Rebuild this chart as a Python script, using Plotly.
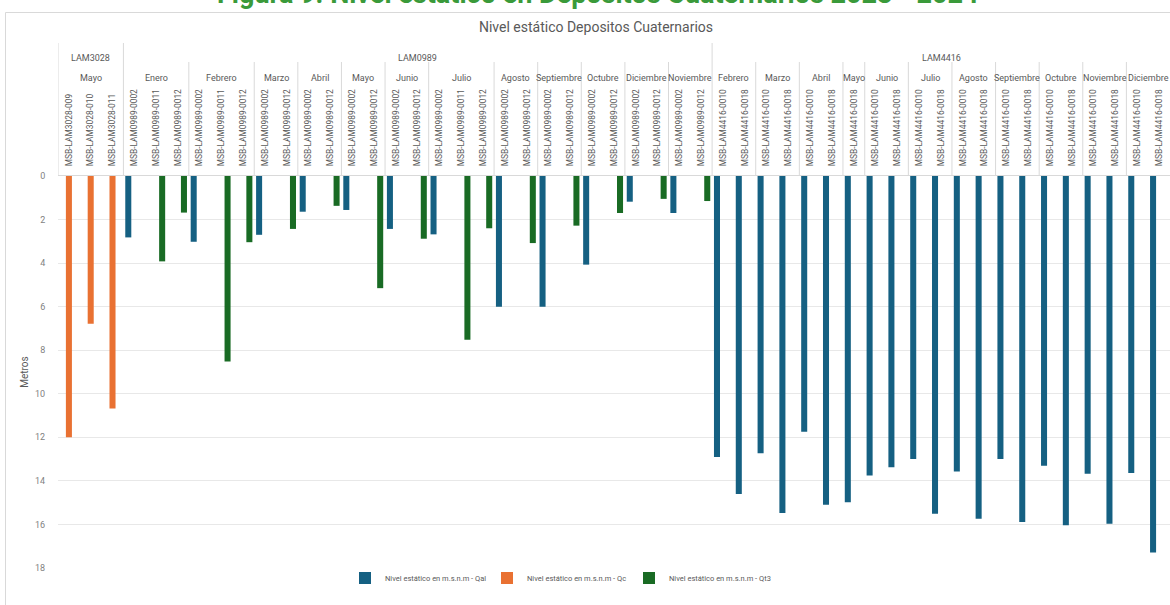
import plotly.graph_objects as go

# ---------------- data ----------------
groups = ["LAM3028"] * 3 + ["LAM0989"] * 27 + ["LAM4416"] * 21

months = (["Mayo"] * 3
          + ["Enero"] * 3 + ["Febrero"] * 3 + ["Marzo"] * 2 + ["Abril"] * 2 + ["Mayo"] * 2
          + ["Junio"] * 2 + ["Julio"] * 3 + ["Agosto"] * 2 + ["Septiembre"] * 2
          + ["Octubre"] * 2 + ["Diciembre"] * 2 + ["Noviembre"] * 2
          + ["Febrero"] * 2 + ["Marzo"] * 2 + ["Abril"] * 2 + ["Mayo"] * 1 + ["Junio"] * 2
          + ["Julio"] * 2 + ["Agosto"] * 2 + ["Septiembre"] * 2 + ["Octubre"] * 2
          + ["Noviembre"] * 2 + ["Diciembre"] * 2)

wells = [
    "MSB-LAM3028-009", "MSB-LAM3028-010", "MSB-LAM3028-011",
    "MSB-LAM0989-0002", "MSB-LAM0989-0011", "MSB-LAM0989-0012",
    "MSB-LAM0989-0002", "MSB-LAM0989-0011", "MSB-LAM0989-0012",
    "MSB-LAM0989-0002", "MSB-LAM0989-0012",
    "MSB-LAM0989-0002", "MSB-LAM0989-0012",
    "MSB-LAM0989-0002", "MSB-LAM0989-0012",
    "MSB-LAM0989-0002", "MSB-LAM0989-0012",
    "MSB-LAM0989-0002", "MSB-LAM0989-0011", "MSB-LAM0989-0012",
    "MSB-LAM0989-0002", "MSB-LAM0989-0012",
    "MSB-LAM0989-0002", "MSB-LAM0989-0012",
    "MSB-LAM0989-0002", "MSB-LAM0989-0012",
    "MSB-LAM0989-0002", "MSB-LAM0989-0012",
    "MSB-LAM0989-0002", "MSB-LAM0989-0012",
    "MSB-LAM4416-0010", "MSB-LAM4416-0018",
    "MSB-LAM4416-0010", "MSB-LAM4416-0018",
    "MSB-LAM4416-0010", "MSB-LAM4416-0018",
    "MSB-LAM4416-0018",
    "MSB-LAM4416-0010", "MSB-LAM4416-0018",
    "MSB-LAM4416-0010", "MSB-LAM4416-0018",
    "MSB-LAM4416-0010", "MSB-LAM4416-0018",
    "MSB-LAM4416-0010", "MSB-LAM4416-0018",
    "MSB-LAM4416-0010", "MSB-LAM4416-0018",
    "MSB-LAM4416-0010", "MSB-LAM4416-0018",
    "MSB-LAM4416-0010", "MSB-LAM4416-0018",
]

N = None
qal = [N, N, N,
       2.82, N, N,
       3.02, N, N,
       2.70, N,
       1.64, N,
       1.56, N,
       2.43, N,
       2.68, N, N,
       6.0, N,
       6.0, N,
       4.07, N,
       1.18, N,
       1.70, N,
       12.9, 14.6,
       12.73, 15.47,
       11.74, 15.09,
       14.98,
       13.75, 13.37,
       13.0, 15.51,
       13.57, 15.74,
       13.0, 15.89,
       13.31, 16.04,
       13.67, 15.97,
       13.64, 17.29]

qc = [12.0, 6.79, 10.68] + [N] * 48

qt3 = [N, N, N,
       N, 3.92, 1.68,
       N, 8.52, 3.04,
       N, 2.43,
       N, 1.37,
       N, 5.15,
       N, 2.88,
       N, 7.52, 2.40,
       N, 3.08,
       N, 2.28,
       N, 1.70,
       N, 1.05,
       N, 1.15] + [N] * 21

series_names = ["Nivel estático en m.s.n.m - Qal",
                "Nivel estático en m.s.n.m - Qc",
                "Nivel estático en m.s.n.m - Qt3"]
series_colors = ["#156082", "#E97132", "#196B24"]

chart_title = "Nivel estático Depositos Cuaternarios"
caption = "Figura 9. Nivel estático en Depósitos Cuaternarios 2023 - 2024"
y_title = "Metros"

# ---------------- figure ----------------
xs = list(range(len(wells)))
FONT = "Roboto, Arial, sans-serif"
GREY = "#595959"

fig = go.Figure()
for vals, name, col in zip([qal, qc, qt3], series_names, series_colors):
    fig.add_trace(go.Bar(x=xs, y=vals, name=name, marker_color=col,
                         marker_line_width=0))

# page body margin is removed (post_script), so screen px == figure px
W, H = 1170, 605
P_LEFT, P_RIGHT, P_TOP, P_BOTTOM = 58, 1170, 176, 568     # plot area on screen
L = P_LEFT
T = P_TOP
R = W - P_RIGHT
B = H - P_BOTTOM
ph = P_BOTTOM - P_TOP
pw = P_RIGHT - P_LEFT


def py(pix):
    return (P_BOTTOM - pix) / ph


def px(pix):
    return (pix - P_LEFT) / pw


shapes = []
annotations = []

# separators in header
shapes.append(dict(type="line", xref="x", yref="paper", x0=-0.5, x1=-0.5,
                   y0=1.0, y1=py(43), line=dict(color="#d9d9d9", width=1)))
for i in range(1, len(wells)):
    if groups[i] != groups[i - 1]:
        shapes.append(dict(type="line", xref="x", yref="paper", x0=i - 0.5, x1=i - 0.5,
                           y0=1.0, y1=py(43), line=dict(color="#d9d9d9", width=1)))
    elif months[i] != months[i - 1]:
        shapes.append(dict(type="line", xref="x", yref="paper", x0=i - 0.5, x1=i - 0.5,
                           y0=1.0, y1=py(62), line=dict(color="#d9d9d9", width=1)))


def runs(keys):
    out = []
    start = 0
    for i in range(1, len(keys) + 1):
        if i == len(keys) or keys[i] != keys[start]:
            out.append((start, i - 1))
            start = i
    return out


for a, b in runs(groups):
    annotations.append(dict(xref="x", yref="paper", x=(a + b) / 2, y=py(51),
                            text=groups[a], showarrow=False,
                            font=dict(family=FONT, size=9, color=GREY)))
for a, b in runs(list(zip(groups, months))):
    annotations.append(dict(xref="x", yref="paper", x=(a + b) / 2, y=py(71),
                            text=months[a], showarrow=False,
                            font=dict(family=FONT, size=9, color=GREY)))

# outer chart border
shapes.append(dict(type="rect", xref="paper", yref="paper", x0=px(5.5), x1=1.05,
                   y0=-0.3, y1=py(12.5), line=dict(color="#d9d9d9", width=1),
                   layer="below"))

# cut-off caption above the chart
annotations.append(dict(xref="paper", yref="paper", x=px(597), y=py(-6),
                        text="<b>" + caption + "</b>", showarrow=False,
                        xanchor="center", yanchor="middle",
                        font=dict(family=FONT, size=27, color="#3A9A3A")))

fig.update_layout(
    width=W, height=H,
    margin=dict(l=L, r=R, t=T, b=B, pad=0, autoexpand=False),
    paper_bgcolor="white", plot_bgcolor="white",
    barmode="group", bargap=0.17, bargroupgap=0,
    font=dict(family=FONT, color=GREY),
    title=dict(text=chart_title, x=596 / W, y=1 - 27 / H,
               xanchor="center", yanchor="middle",
               font=dict(family=FONT, size=14, color=GREY)),
    xaxis=dict(range=[-0.5, len(wells) - 0.5], side="top", tickmode="array",
               tickvals=xs, ticktext=wells, tickangle=-90, automargin=False,
               tickfont=dict(family=FONT, size=8.4, color=GREY),
               showgrid=False, zeroline=False, showline=True,
               linecolor="#d9d9d9", ticks="outside", ticklen=7,
               tickcolor="rgba(0,0,0,0)"),
    yaxis=dict(range=[18, 0], dtick=2, tick0=0, gridcolor="#e8e8e8",
               zeroline=False, showline=False, automargin=False,
               tickfont=dict(family=FONT, size=9, color="#7f7f7f"),
               ticks="outside", ticklen=10, tickcolor="rgba(0,0,0,0)",
               title=dict(text=y_title, standoff=4,
                          font=dict(family=FONT, size=10, color=GREY))),
    legend=dict(orientation="h", x=px(345), xanchor="left", y=py(578),
                yanchor="middle", font=dict(family=FONT, size=7.5, color=GREY),
                entrywidth=97, itemwidth=30, bgcolor="rgba(0,0,0,0)"),
    shapes=shapes,
    annotations=annotations,
)

fig.write_html("out.html",
               config={"displayModeBar": False},
               post_script="document.body.style.margin='0';"
                           "document.documentElement.style.margin='0';")
